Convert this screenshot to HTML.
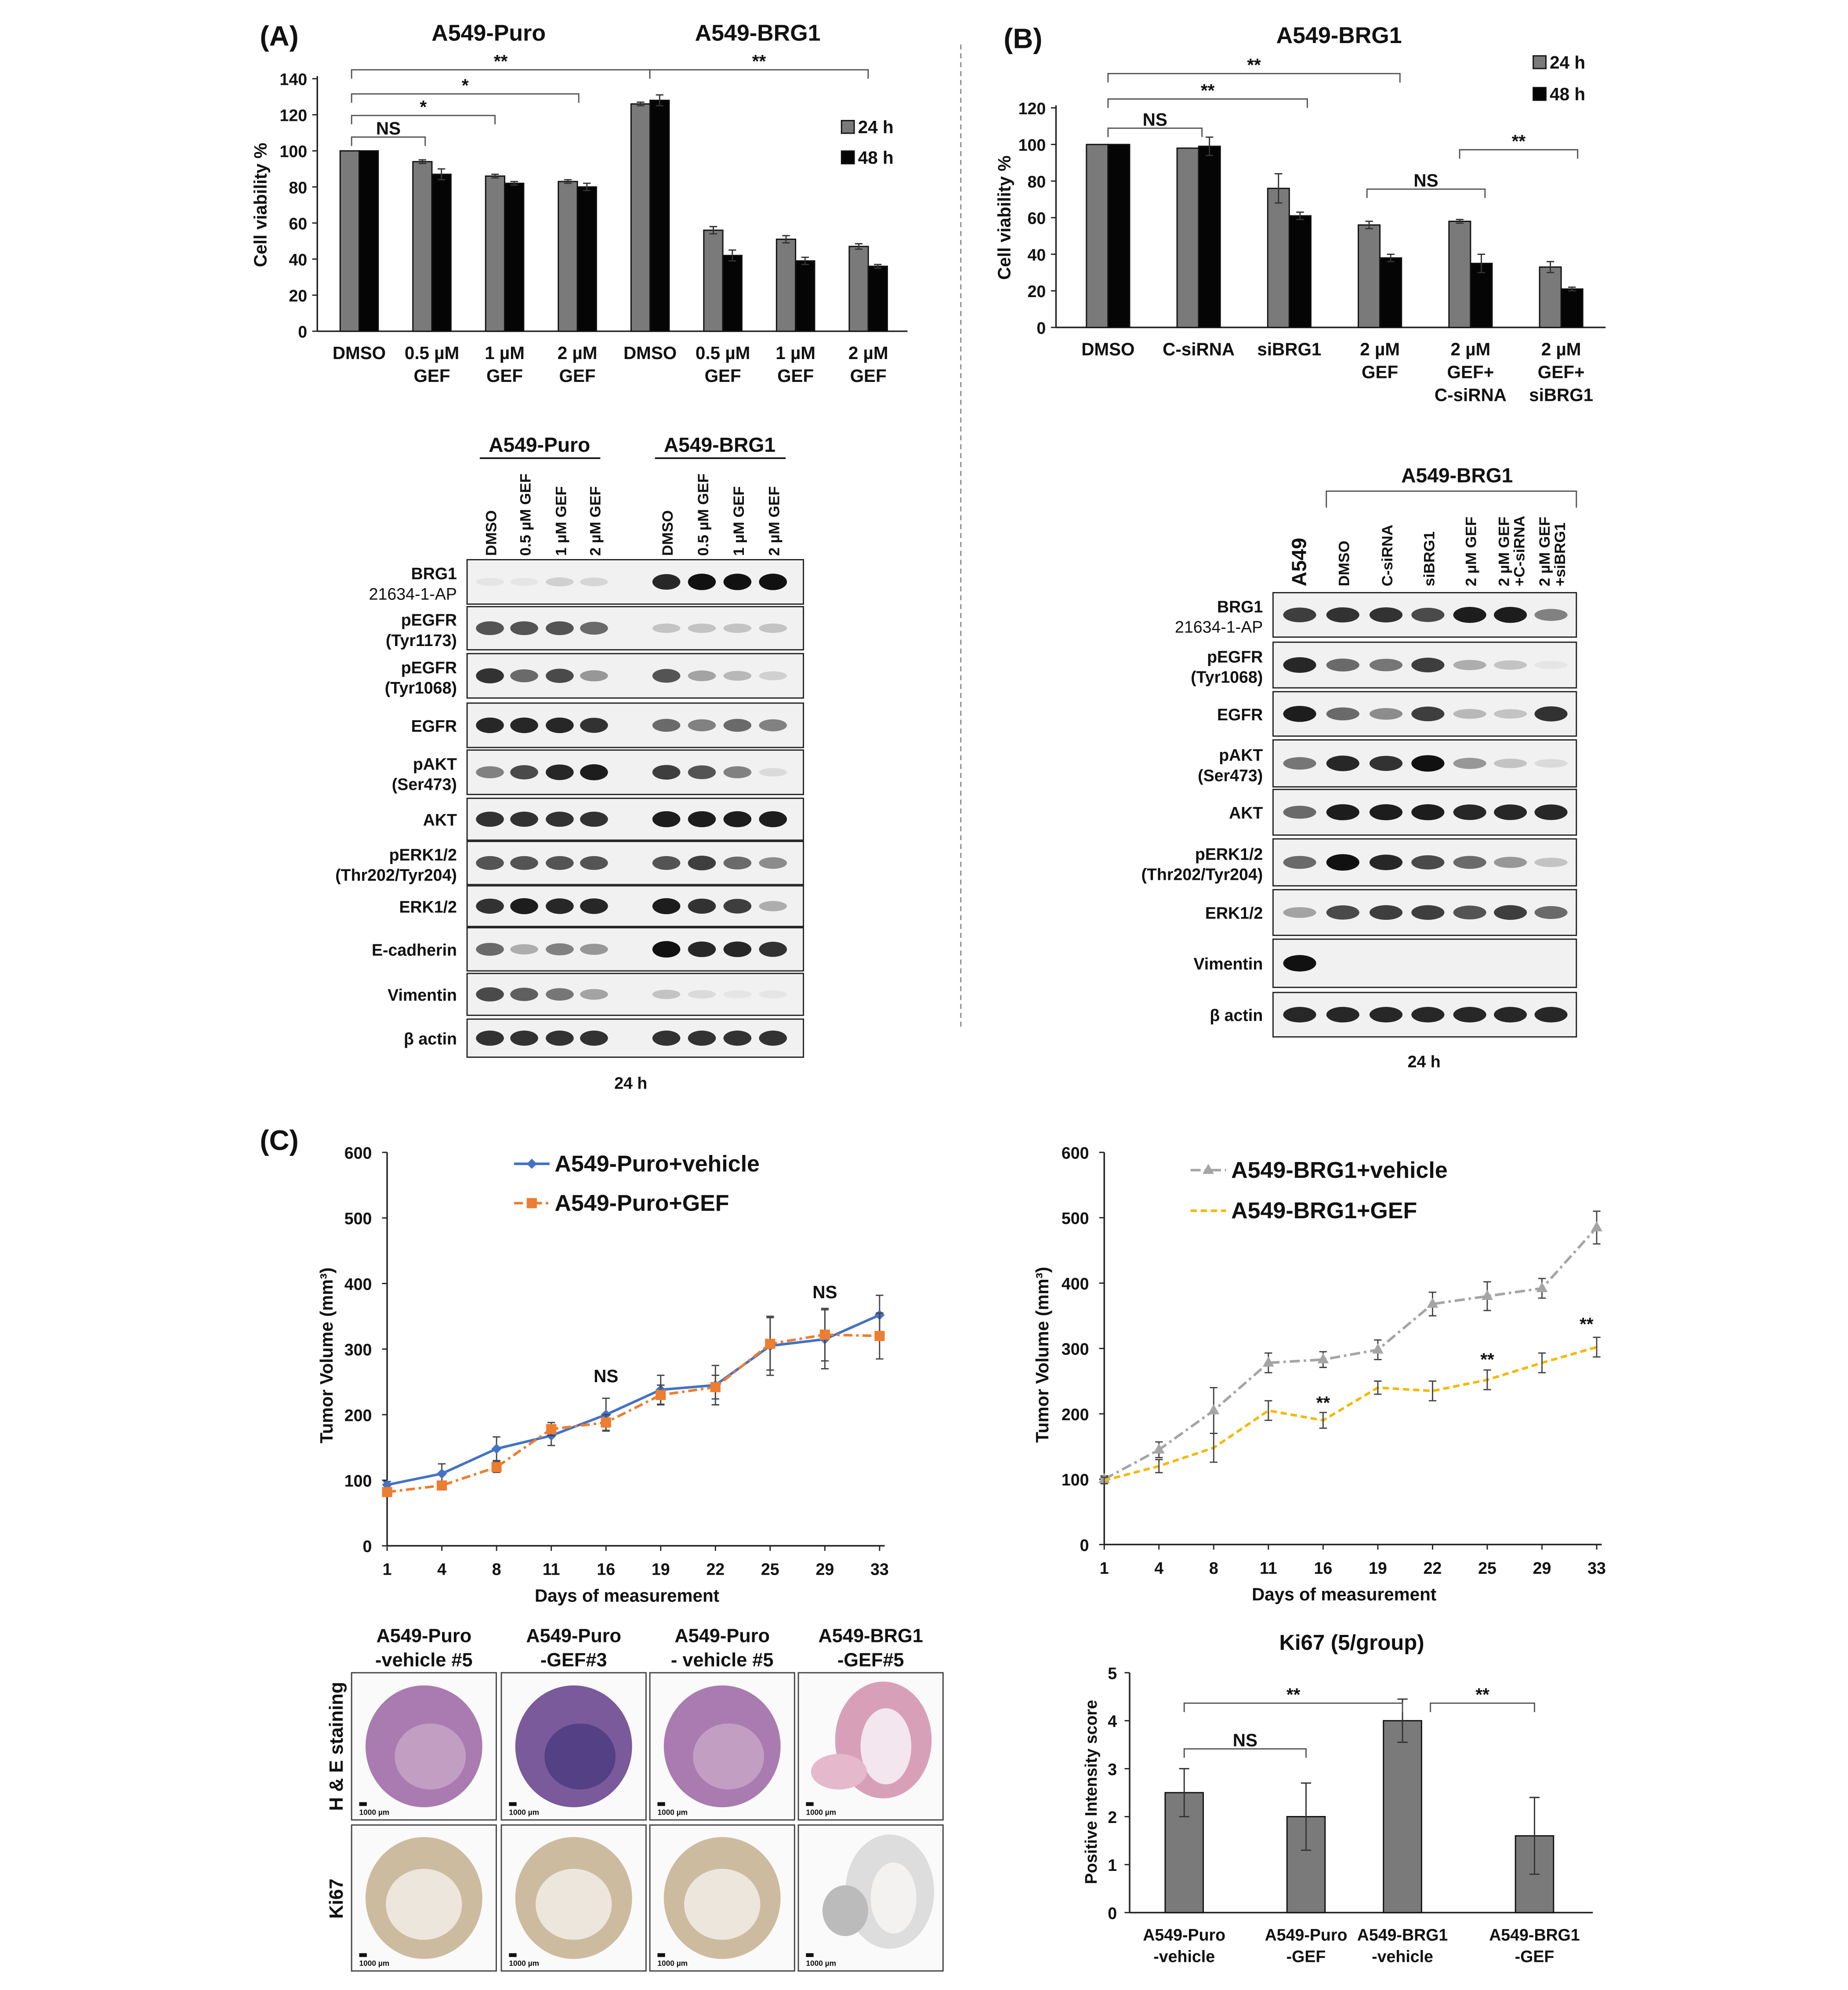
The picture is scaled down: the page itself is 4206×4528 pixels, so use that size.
<!DOCTYPE html>
<html><head><meta charset="utf-8"><style>
html,body{margin:0;padding:0;background:#fff}
svg{display:block}
text{font-family:"Liberation Sans",Arial,sans-serif;fill:#111}
</style></head><body>
<svg id="fig" width="4206" height="4528" viewBox="0 0 1456 1568" preserveAspectRatio="none" xmlns="http://www.w3.org/2000/svg">
<g id="root"></g>
</svg>
<script>
// ---------- Panel A bar chart data ----------
const aCats=[["DMSO"],["0.5 µM","GEF"],["1 µM","GEF"],["2 µM","GEF"],["DMSO"],["0.5 µM","GEF"],["1 µM","GEF"],["2 µM","GEF"]];
const a24=[100,94,86,83,126,56,51,47];
const a48=[100,87,82,80,128,42,39,36];
const a24err=[0,1,1,1,1,2,2,1.5];
const a48err=[0,3,1,2,3,3,2,1];
const aTicks=[0,20,40,60,80,100,120,140];
// ---------- Panel B bar chart data ----------
const bCats=[["DMSO"],["C-siRNA"],["siBRG1"],["2 µM","GEF"],["2 µM","GEF+","C-siRNA"],["2 µM","GEF+","siBRG1"]];
const b24=[100,98,76,56,58,33];
const b48=[100,99,61,38,35,21];
const b24err=[0,0,8,2,1,3];
const b48err=[0,5,2,2,5,1];
const bTicks=[0,20,40,60,80,100,120];
// ---------- Panel C line charts ----------
const days=["1","4","8","11","16","19","22","25","29","33"];
const puroVeh=[93,110,148,168,200,238,245,305,315,352];
const puroVehErr=[5,15,18,15,25,22,30,45,45,30];
const puroGef=[82,92,120,178,188,230,242,308,322,320];
const puroGefErr=[5,5,8,10,12,15,18,40,40,35];
const brgVeh=[100,145,205,278,283,298,368,380,392,485];
const brgVehErr=[5,12,35,15,12,15,18,22,15,25];
const brgGef=[98,120,148,205,190,240,235,252,278,302];
const brgGefErr=[5,10,22,15,12,10,15,15,15,15];
const lineTicks=[0,100,200,300,400,500,600];
// ---------- Ki67 ----------
const kCats=[["A549-Puro","-vehicle"],["A549-Puro","-GEF"],["A549-BRG1","-vehicle"],["A549-BRG1","-GEF"]];
const kVals=[2.5,2.0,4.0,1.6];
const kErr=[0.5,0.7,0.45,0.8];
const kTicks=[0,1,2,3,4,5];
// ---------- Blot intensities ----------
const blotARows=["BRG1|21634-1-AP","pEGFR|(Tyr1173)","pEGFR|(Tyr1068)","EGFR","pAKT|(Ser473)","AKT","pERK1/2|(Thr202/Tyr204)","ERK1/2","E-cadherin","Vimentin","β actin"];
const blotAInt=[[0.05,0.05,0.15,0.12,0.9,1,1,1],[0.7,0.7,0.7,0.6,0.2,0.2,0.2,0.2],[0.85,0.6,0.75,0.4,0.7,0.35,0.25,0.15],[0.9,0.9,0.9,0.85,0.6,0.5,0.6,0.5],[0.5,0.75,0.9,0.95,0.8,0.7,0.5,0.1],[0.85,0.85,0.85,0.85,0.95,0.95,0.95,0.95],[0.7,0.7,0.7,0.7,0.7,0.8,0.6,0.45],[0.85,0.95,0.9,0.9,0.95,0.85,0.8,0.3],[0.6,0.3,0.5,0.4,1,0.9,0.9,0.85],[0.75,0.65,0.55,0.35,0.2,0.1,0.05,0.05],[0.85,0.85,0.85,0.85,0.85,0.85,0.85,0.85]];
const blotBRows=["BRG1|21634-1-AP","pEGFR|(Tyr1068)","EGFR","pAKT|(Ser473)","AKT","pERK1/2|(Thr202/Tyr204)","ERK1/2","Vimentin","β actin"];
const blotBInt=[[0.8,0.85,0.85,0.75,0.95,0.95,0.5],[0.9,0.6,0.55,0.8,0.3,0.2,0.05],[0.95,0.6,0.45,0.8,0.25,0.2,0.85],[0.55,0.9,0.85,1,0.4,0.2,0.1],[0.6,0.95,0.95,0.95,0.9,0.9,0.9],[0.6,1,0.9,0.75,0.6,0.4,0.2],[0.35,0.75,0.8,0.8,0.7,0.8,0.6],[1,0,0,0,0,0,0],[0.9,0.9,0.9,0.9,0.9,0.9,0.9]];

const NS="http://www.w3.org/2000/svg";
const root=document.getElementById('root');
function el(tag,attrs,parent,txt){const e=document.createElementNS(NS,tag);for(const k in attrs)e.setAttribute(k,attrs[k]);if(txt!==undefined)e.textContent=txt;(parent||root).appendChild(e);return e;}
function grp(name,parent){const g=el('g',{},parent);return g;}
function txt(p,x,y,s,size,opts){opts=opts||{};const t=el('text',{x:x,y:y,'font-size':size,'text-anchor':opts.a||'middle','font-weight':opts.w||'bold',fill:opts.f||'#111'},p,s);if(opts.r)t.setAttribute('transform','rotate('+opts.r+' '+x+' '+y+')');return t;}
function line(p,x1,y1,x2,y2,st,w,dash){return el('line',{x1:x1,y1:y1,x2:x2,y2:y2,stroke:st||'#222','stroke-width':w||1,'stroke-dasharray':dash||'none'},p);}
function bracket(p,x1,x2,y,label,h){h=h||7;el('path',{d:`M${x1} ${y+h}V${y}H${x2}V${y+h}`,fill:'none',stroke:'#555','stroke-width':1},p);txt(p,(x1+x2)/2,y-2,label,14);}

[["(A)",220,36],["(B)",806,38],["(C)",220,906]].forEach(l=>{const t=txt(root,l[1],l[2],l[0],22);});
line(root,757,35,757,812,'#888',1,'4,3');

function barChart(name,o){
  const g=grp(name);
  const yS=v=>o.y0-(v/o.ymax)*(o.y0-o.ytop);
  const cxf=i=>o.first+i*o.step;
  line(g,o.x0,o.y0,o.x1,o.y0,'#222',1.2);line(g,o.x0,o.y0,o.x0,o.ytop-2,'#222',1.2);
  o.ticks.forEach(t=>{const yy=yS(t);line(g,o.x0-4,yy,o.x0,yy);const tl=txt(g,o.x0-8,yy+5,String(t),13,{a:'end'});});
  o.cats.forEach((c,i)=>{
    const cx=cxf(i);
    o.series.forEach((s,j)=>{
      const bx=cx-o.bw*o.series.length/2+j*o.bw;
      const v=s.vals[i];
      const r=el('rect',{x:bx,y:yS(v),width:o.bw,height:o.y0-yS(v),fill:s.color,stroke:'#111','stroke-width':1},g);
      
      const e=s.err[i];if(e>0){const ex=bx+o.bw/2;line(g,ex,yS(v+e),ex,yS(v-e),'#333',1);line(g,ex-3,yS(v+e),ex+3,yS(v+e),'#333',1);line(g,ex-3,yS(v-e),ex+3,yS(v-e),'#333',1);}
    });
    c.forEach((s,k)=>{const tl=txt(g,cx,o.y0+22+k*18,s,14);});
  });
  const yt=txt(g,o.ytx,(o.y0+o.ytop)/2,o.ytitle,14,{r:-90});
  return {g,yS,cx:cxf};
}
function legend(p,x,y,color,label){const g=grp('legend-entry',p);el('rect',{x:x,y:y-10,width:10,height:10,fill:color,stroke:'#111'},g);txt(g,x+13,y,label,14,{a:'start'});}

const A=barChart('chart-a',{x0:250,x1:715,y0:261,ytop:62,ymax:140,first:283,step:57.3,ticks:aTicks,cats:aCats,bw:15,ytitle:'Cell viability %',ytx:210,series:[{key:'24h',vals:a24,err:a24err,color:'#7a7a7a'},{key:'48h',vals:a48,err:a48err,color:'#050505'}]});
txt(A.g,385,32,'A549-Puro',18);txt(A.g,597,32,'A549-BRG1',18);
legend(A.g,663,105,'#7a7a7a','24 h');legend(A.g,663,129,'#050505','48 h');
bracket(A.g,277,335,108,'NS');bracket(A.g,277,390,91,'*');bracket(A.g,277,456,74,'*');bracket(A.g,277,512,55,'**');bracket(A.g,512,684,55,'**');

const B=barChart('chart-b',{x0:832,x1:1265,y0:258,ytop:85,ymax:120,first:873,step:71.4,ticks:bTicks,cats:bCats,bw:17,ytitle:'Cell viability %',ytx:796,series:[{key:'24h',vals:b24,err:b24err,color:'#7a7a7a'},{key:'48h',vals:b48,err:b48err,color:'#050505'}]});
txt(B.g,1055,34,'A549-BRG1',18);
legend(B.g,1208,54,'#7a7a7a','24 h');legend(B.g,1208,79,'#050505','48 h');
bracket(B.g,873,947,101,'NS');bracket(B.g,873,1030,78,'**');bracket(B.g,873,1103,58,'**');bracket(B.g,1077,1170,149,'NS');bracket(B.g,1150,1243,118,'**');

function blot(name,o){
  const g=grp(name);
  o.rows.forEach((r,i)=>{
    const [y1,y2]=o.ys[i];
    const rg=grp('blot-row-'+r.split('|')[0].toLowerCase().replace(/[^a-z0-9]+/g,'-'),g);
    el('rect',{x:o.x0,y:y1,width:o.x1-o.x0,height:y2-y1,fill:'#f1f1f1',stroke:'#222','stroke-width':1},rg);
    const parts=r.split('|');
    if(parts.length==1)txt(rg,o.x0-8,(y1+y2)/2+5,parts[0],13,{a:'end'});
    else{txt(rg,o.x0-8,(y1+y2)/2-2,parts[0],13,{a:'end'});txt(rg,o.x0-8,(y1+y2)/2+14,parts[1],13,{a:'end',w:i==0?'normal':'bold'});}
    o.lanes.forEach((lx,j)=>{const v=o.ints[i][j];if(v<=0.02)return;el('ellipse',{cx:lx,cy:(y1+y2)/2,rx:o.lw/2,ry:3+v*3.5,fill:'#111','fill-opacity':v},rg);});
  });
  o.labels.forEach((l,j)=>{
    const ls=l.split('|');
    ls.forEach((s,k)=>{const off=ls.length==2?(k==0?-1:11):5;const t=txt(g,o.lanes[j]+off,o.labY,s,j==0&&o.big?16:12,{a:'start',r:-90});});
  });
  txt(g,o.foot[0],o.foot[1],'24 h',13);
  return g;
}
const aYs=[[441,476],[478,512],[515,550],[554,589],[591,626],[629,662],[663,697],[698,730],[731,765],[767,800],[803,833]];
const gA=blot('blot-a',{x0:368,x1:633,rows:blotARows,ys:aYs,ints:blotAInt,lanes:[386,413,441,468,525,553,581,609],lw:22,labels:["DMSO","0.5 µM GEF","1 µM GEF","2 µM GEF","DMSO","0.5 µM GEF","1 µM GEF","2 µM GEF"],labY:438,foot:[497,858]});
txt(gA,425,356,'A549-Puro',16);line(gA,378,361,473,361,'#111',1.3);
txt(gA,567,356,'A549-BRG1',16);line(gA,516,361,619,361,'#111',1.3);
const bYs=[[467,502],[506,542],[545,580],[583,620],[622,658],[661,698],[701,737],[740,778],[782,817]];
const gB=blot('blot-b',{x0:1003,x1:1242,rows:blotBRows,ys:bYs,ints:blotBInt,lanes:[1024,1058,1092,1125,1158,1190,1222],lw:26,labels:["A549","DMSO","C-siRNA","siBRG1","2 µM GEF","2 µM GEF|+C-siRNA","2 µM GEF|+siBRG1"],labY:462,big:true,foot:[1122,841]});
txt(gB,1148,380,'A549-BRG1',16);
el('path',{d:'M1045 400V387H1242V400',fill:'none',stroke:'#555'},gB);

function lineChart(name,o){
  const g=grp(name);
  const yS=v=>o.y0-(v/600)*(o.y0-o.ytop);
  const xS=i=>o.x0+i*(o.x1-o.x0)/(days.length-1);
  line(g,o.x0,o.y0,o.x1+4,o.y0,'#222',1.2);line(g,o.x0,o.y0,o.x0,o.ytop,'#222',1.2);
  lineTicks.forEach(t=>{line(g,o.x0-4,yS(t),o.x0,yS(t));const tl=txt(g,o.x0-12,yS(t)+5,String(t),13,{a:'end'});});
  days.forEach((d,i)=>{line(g,xS(i),o.y0,xS(i),o.y0+4);const tl=txt(g,xS(i),o.y0+23,d,13);});
  txt(g,(o.x0+o.x1)/2-5,o.y0+44,'Days of measurement',14);
  const yt=txt(g,o.ytx,(o.y0+o.ytop)/2+5,'Tumor Volume (mm³)',14,{r:-90});
  o.series.forEach(s=>{
    const sg=grp('series-'+s.key,g);
    el('polyline',{points:s.vals.map((v,i)=>xS(i)+','+yS(v)).join(' '),fill:'none',stroke:s.color,'stroke-width':2,'stroke-dasharray':s.dash||'none'},sg);
    s.vals.forEach((v,i)=>{const e=s.err[i];line(sg,xS(i),yS(v+e),xS(i),yS(v-e),'#444',1);line(sg,xS(i)-3,yS(v+e),xS(i)+3,yS(v+e),'#444',1);line(sg,xS(i)-3,yS(v-e),xS(i)+3,yS(v-e),'#444',1);
      let m;if(s.marker=='d')m=el('path',{d:`M${xS(i)} ${yS(v)-4}l4 4l-4 4l-4 -4z`,fill:s.color},sg);else if(s.marker=='s')m=el('rect',{x:xS(i)-4,y:yS(v)-4,width:8,height:8,fill:s.color},sg);else if(s.marker=='t')m=el('path',{d:`M${xS(i)} ${yS(v)-5}l4.5 8h-9z`,fill:s.color},sg);
      if(m){}});
    const lg=grp('legend-entry',g);
    el('line',{x1:s.lx,y1:s.ly-5,x2:s.lx+28,y2:s.ly-5,stroke:s.color,'stroke-width':2,'stroke-dasharray':s.dash||'none'},lg);
    if(s.marker=='d')el('path',{d:`M${s.lx+14} ${s.ly-9}l4 4l-4 4l-4 -4z`,fill:s.color},lg);else if(s.marker=='s')el('rect',{x:s.lx+10,y:s.ly-9,width:8,height:8,fill:s.color},lg);else if(s.marker=='t')el('path',{d:`M${s.lx+14} ${s.ly-10}l4.5 8h-9z`,fill:s.color},lg);
    txt(lg,s.lx+32,s.ly+1,s.label,18,{a:'start'});
  });
  return {g,xS,yS};
}
const L1=lineChart('chart-c-puro',{x0:305,x1:693,y0:1218,ytop:908,ytx:262,series:[
 {key:'puro-vehicle',vals:puroVeh,err:puroVehErr,color:'#4472c4',marker:'d',lx:405,ly:922,label:'A549-Puro+vehicle'},
 {key:'puro-gef',vals:puroGef,err:puroGefErr,color:'#ed7d31',marker:'s',dash:'7,3,2,3',lx:405,ly:953,label:'A549-Puro+GEF'}]});
txt(L1.g,L1.xS(4),1089,'NS',14);txt(L1.g,L1.xS(8),1023,'NS',14);
const L2=lineChart('chart-c-brg1',{x0:870,x1:1258,y0:1217,ytop:908,ytx:826,series:[
 {key:'brg1-vehicle',vals:brgVeh,err:brgVehErr,color:'#a5a5a5',marker:'t',dash:'8,3,2,3',lx:938,ly:927,label:'A549-BRG1+vehicle'},
 {key:'brg1-gef',vals:brgGef,err:brgGefErr,color:'#f5b800',marker:'n',dash:'5,3',lx:938,ly:959,label:'A549-BRG1+GEF'}]});
txt(L2.g,L2.xS(4),1110,'**',14);txt(L2.g,L2.xS(7),1076,'**',14);txt(L2.g,L2.xS(9)-8,1048,'**',14);

(function(){
  const g=grp('chart-ki67');
  const x0=890,x1=1255,y0=1507,ytop=1318;
  const yS=v=>y0-(v/5)*(y0-ytop);
  const centers=[933,1029,1105,1209];
  line(g,x0,y0,x1,y0,'#222',1.2);line(g,x0,y0,x0,ytop,'#222',1.2);
  kTicks.forEach(t=>{line(g,x0-4,yS(t),x0,yS(t));txt(g,x0-10,yS(t)+5,String(t),13,{a:'end'});});
  kCats.forEach((c,i)=>{const cx=centers[i];const v=kVals[i],e=kErr[i];
    const r=el('rect',{x:cx-15,y:yS(v),width:30,height:y0-yS(v),fill:'#7a7a7a',stroke:'#111'},g);
    
    line(g,cx,yS(v+e),cx,yS(v-e),'#333');line(g,cx-4,yS(v+e),cx+4,yS(v+e),'#333');line(g,cx-4,yS(v-e),cx+4,yS(v-e),'#333');
    txt(g,cx,y0+22,c[0],13);txt(g,cx,y0+39,c[1],13);});
  txt(g,1065,1300,'Ki67 (5/group)',17);
  txt(g,864,1412,'Positive Intensity score',13,{r:-90});
  bracket(g,933,1029,1378,'NS');bracket(g,933,1105,1342,'**');bracket(g,1127,1209,1342,'**');
})();

(function(){
  const g=grp('histology-panel');
  const cols=[277,395,512,629],w=114;
  const heads=[["A549-Puro","-vehicle #5"],["A549-Puro","-GEF#3"],["A549-Puro","- vehicle #5"],["A549-BRG1","-GEF#5"]];
  cols.forEach((x,i)=>{txt(g,x+w/2,1294,heads[i][0],15);txt(g,x+w/2,1313,heads[i][1],15);
    [[1318,1434,'he'],[1438,1553,'ki']].forEach(r=>{const cg=grp('image-'+r[2]+'-'+i,g);
      el('rect',{x:x,y:r[0],width:w,height:r[1]-r[0],fill:'#fafafa',stroke:'#444'},cg);
      const cx=x+w/2,cy=(r[0]+r[1])/2;
      if(r[2]=='he'){
        if(i==3){el('ellipse',{cx:cx+10,cy:cy-5,rx:38,ry:46,fill:'#d8a0b8'},cg);el('ellipse',{cx:cx+12,cy:cy,rx:20,ry:30,fill:'#f3e6ee'},cg);el('ellipse',{cx:cx-25,cy:cy+20,rx:22,ry:14,fill:'#e6b8cc'},cg);}
        else{el('ellipse',{cx:cx,cy:cy,rx:46,ry:48,fill:i==1?'#7a5a9a':'#a97bb0'},cg);el('ellipse',{cx:cx+5,cy:cy+8,rx:28,ry:26,fill:i==1?'#4a3a80':'#c9a7c8','fill-opacity':0.8},cg);}
      }
      else{
        if(i==3){el('ellipse',{cx:cx+15,cy:cy-5,rx:35,ry:45,fill:'#ddd'},cg);el('ellipse',{cx:cx+18,cy:cy,rx:18,ry:28,fill:'#f4f2f0'},cg);el('ellipse',{cx:cx-20,cy:cy+10,rx:18,ry:20,fill:'#bbb'},cg);}
        else{el('ellipse',{cx:cx,cy:cy,rx:46,ry:48,fill:'#cdbba0'},cg);el('ellipse',{cx:cx,cy:cy+5,rx:30,ry:28,fill:'#ece6dc'},cg);}
      }
      el('rect',{x:x+6,y:r[1]-14,width:6,height:3,fill:'#111'},cg);txt(cg,x+6,r[1]-4,'1000 µm',6,{a:'start'});
    });});
  txt(g,270,1376,'H & E staining',15,{r:-90});txt(g,270,1496,'Ki67',15,{r:-90});
})();
</script>
</body></html>
